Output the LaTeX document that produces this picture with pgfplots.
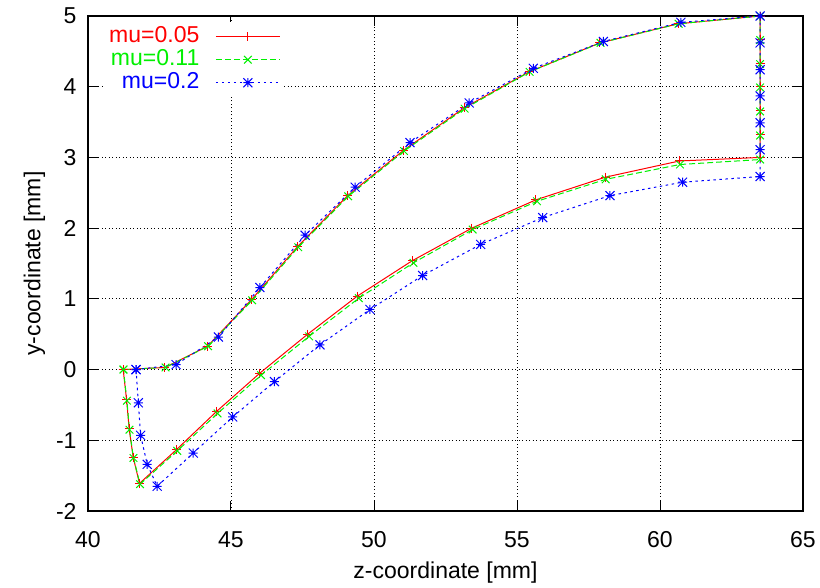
\documentclass[border=0pt]{standalone}
\usepackage{fontspec}
\setmainfont{Liberation Sans}
\usepackage{pgfplots}
\pgfplotsset{compat=1.18}

\definecolor{gpred}{RGB}{255,0,0}
\definecolor{gpgreen}{RGB}{0,240,0}
\definecolor{gpblue}{RGB}{0,0,255}

% gnuplot-style star: + and x on top of each other
\pgfdeclareplotmark{gpstar}{%
  \pgfpathmoveto{\pgfqpoint{-\pgfplotmarksize}{0pt}}%
  \pgfpathlineto{\pgfqpoint{\pgfplotmarksize}{0pt}}%
  \pgfpathmoveto{\pgfqpoint{0pt}{-\pgfplotmarksize}}%
  \pgfpathlineto{\pgfqpoint{0pt}{\pgfplotmarksize}}%
  \pgfpathmoveto{\pgfqpoint{-\pgfplotmarksize}{-\pgfplotmarksize}}%
  \pgfpathlineto{\pgfqpoint{\pgfplotmarksize}{\pgfplotmarksize}}%
  \pgfpathmoveto{\pgfqpoint{-\pgfplotmarksize}{\pgfplotmarksize}}%
  \pgfpathlineto{\pgfqpoint{\pgfplotmarksize}{-\pgfplotmarksize}}%
  \pgfusepathqstroke}

\begin{document}
\begin{tikzpicture}[font=\fontsize{23}{27}\selectfont]
\begin{axis}[
  scale only axis,
  width=715pt, height=495pt,
  xmin=40, xmax=65, ymin=-2, ymax=5,
  xtick={40,45,...,65}, ytick={-2,-1,...,5},
  /pgf/number format/assume math mode=true,
  tick align=inside,
  major tick length=10pt,
  axis line style={line width=1.3pt},
  tick style={black, line width=1pt},
  grid=major,
  major grid style={black, line width=0.9pt, dash pattern=on 1pt off 2.5pt},
  xticklabel style={yshift=-17pt},
  yticklabel style={xshift=-8pt},
  xlabel={z-coordinate [mm]},
  ylabel={y-coordinate [mm]},
  xlabel style={at={(axis description cs:0.5,0)}, anchor=center, yshift=-62pt, inner sep=0pt},
  ylabel style={at={(axis description cs:-0.075,0.5)}, rotate=0, anchor=center, inner sep=0pt},
  legend plot pos=right,
  legend cell align=right,
  legend style={at={(axis description cs:0,1)}, anchor=north west,
    xshift=17pt, yshift=-6pt, draw=none, fill=white, inner sep=4pt,
    column sep=16pt, row sep=2pt,
    nodes={inner sep=0pt, text height=16pt, text depth=5pt}},
  legend image code/.code={\draw[mark repeat=2,mark phase=2]
    plot coordinates {(0pt,0pt) (32pt,0pt) (64pt,0pt)};},
  every axis plot/.append style={line width=1pt, mark size=4.5pt},
]
\addplot[gpred, solid, mark=+, mark options={solid}] coordinates {
 (41.23,0) (42.69,0.03) (44.18,0.33) (45.72,0.99) (47.33,1.74) (49.08,2.46)
 (51.03,3.10) (53.15,3.70) (55.42,4.21) (57.90,4.62) (60.63,4.89) (63.5,5.0)
 (63.5,4.67) (63.5,4.33) (63.5,4.0) (63.5,3.67) (63.5,3.33) (63.5,3.0)
 (60.68,2.95) (58.08,2.72) (55.66,2.40) (53.42,2.0) (51.34,1.54) (49.42,1.04)
 (47.68,0.50) (46.01,-0.05) (44.50,-0.59) (43.10,-1.13) (41.80,-1.61)
 (41.58,-1.24) (41.44,-0.84) (41.35,-0.43) (41.23,0)
};
\addlegendentry{\textcolor{gpred}{mu=0.05}}
\addplot[gpgreen, dash pattern=on 6pt off 3pt, mark=x, mark options={solid, scale=1.2}] coordinates {
 (41.24,0) (42.71,0.03) (44.20,0.33) (45.74,0.98) (47.35,1.73) (49.10,2.45)
 (51.05,3.09) (53.17,3.69) (55.44,4.21) (57.92,4.62) (60.65,4.89) (63.5,5.0)
 (63.5,4.66) (63.5,4.32) (63.5,3.99) (63.5,3.65) (63.5,3.31) (63.5,2.97)
 (60.70,2.90) (58.10,2.69) (55.70,2.38) (53.45,1.98) (51.38,1.51) (49.47,1.01)
 (47.73,0.47) (46.05,-0.08) (44.53,-0.62) (43.12,-1.15) (41.82,-1.62)
 (41.59,-1.25) (41.45,-0.85) (41.36,-0.44) (41.24,0)
};
\addlegendentry{\textcolor{gpgreen}{mu=0.11}}
\addplot[gpblue, dash pattern=on 2.5pt off 3.5pt, mark=gpstar, mark options={solid}] coordinates {
 (41.68,0) (43.08,0.07) (44.56,0.46) (46.01,1.16) (47.59,1.90) (49.34,2.58)
 (51.26,3.21) (53.33,3.77) (55.57,4.26) (58.02,4.64) (60.73,4.91) (63.5,5.0)
 (63.5,4.62) (63.5,4.24) (63.5,3.87) (63.5,3.49) (63.5,3.11) (63.5,2.73)
 (60.79,2.65) (58.25,2.46) (55.90,2.15) (53.73,1.77) (51.70,1.33) (49.86,0.85)
 (48.11,0.35) (46.52,-0.17) (45.06,-0.67) (43.68,-1.18) (42.42,-1.65)
 (42.07,-1.34) (41.84,-0.93) (41.76,-0.47) (41.68,0)
};
\addlegendentry{\textcolor{gpblue}{mu=0.2}}
\end{axis}
\pgfresetboundingbox
\useasboundingbox (-88pt,-76pt) rectangle (732pt,511pt);
\end{tikzpicture}
\end{document}
